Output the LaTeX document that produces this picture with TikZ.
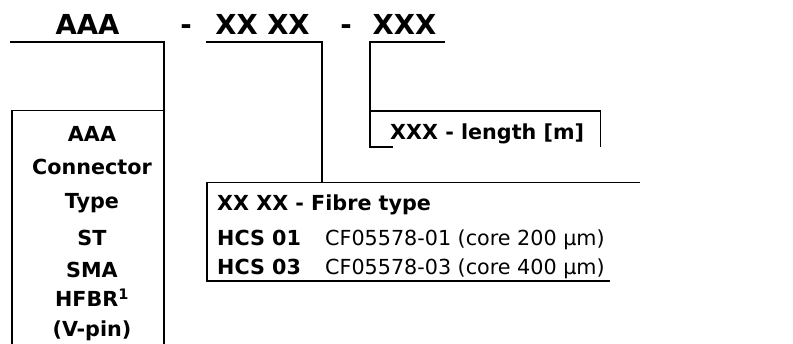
\documentclass[tikz,border=0pt]{standalone}
\usepackage{fontspec}
\setmainfont{DejaVu Sans}
\begin{document}
\begin{tikzpicture}[x=1pt,y=-1pt,
  rule/.style={line width=1.8pt},
  head/.style={anchor=base,inner sep=0pt,font=\fontsize{27.5}{30}\selectfont\bfseries},
  cell/.style={anchor=base,inner sep=0pt,font=\fontsize{20.7}{24}\selectfont\bfseries},
  lcell/.style={anchor=base west,inner sep=0pt,font=\fontsize{20.7}{24}\selectfont\bfseries},
  plain/.style={anchor=base west,inner sep=0pt,font=\fontsize{20.7}{24}\selectfont}]
\useasboundingbox (0,0) rectangle (793,344);

% order code
\node[head] (hA) at (87.5,35) {AAA};
\node[head] (hD1) at (186,35) {-};
\node[head] (hF) at (262.5,35) {XX XX};
\node[head] (hD2) at (346,35) {-};
\node[head] (hL) at (404.5,35) {XXX};

% underlines and drops
\coordinate (aS) at (10,42);
\coordinate (aE) at (164,42);
\coordinate (fS) at (206,42);
\coordinate (fE) at (322,42);
\coordinate (lS) at (445,42);
\coordinate (lE) at (370,42);

% connector type box
\coordinate (cTL) at (12,110.5);
\coordinate (cTR) at (164,110.5);
\coordinate (cBL) at (12,346);
\coordinate (cBR) at (164,346);
\draw[rule] (aS) -- (aE) -- (cTR);
\draw[rule] (cBL) -- (cTL) -- (cTR) -- (cBR);

\node[cell] (c1) at (92,142) {AAA};
\node[cell] (c2) at (92,175) {Connector};
\node[cell] (c3) at (92,209) {Type};
\node[cell] (c4) at (92,246) {ST};
\node[cell] (c5) at (92,278) {SMA};
\node[cell] (c6) at (92,307) {HFBR\textsuperscript{1}};
\node[cell] (c7) at (92,337) {(V-pin)};

% fibre type box
\coordinate (fTL) at (207,182.5);
\coordinate (fTM) at (322,182.5);
\coordinate (fTR) at (640,182.5);
\coordinate (fBL) at (207,281);
\coordinate (fBR) at (610,281);
\draw[rule] (fS) -- (fE) -- (fTM);
\draw[rule] (fTR) -- (fTL) -- (fBL) -- (fBR);

\node[lcell] (f1) at (217,211) {XX XX - Fibre type};
\node[lcell] (f2) at (217,246) {HCS 01};
\node[plain] (f2d) at (325,246) {CF05578-01 (core 200 µm)};
\node[lcell] (f3) at (217,275) {HCS 03};
\node[plain] (f3d) at (325,275) {CF05578-03 (core 400 µm)};

% length box
\coordinate (lTL) at (370,111);
\coordinate (lTR) at (600.5,111);
\coordinate (lBR) at (600.5,147);
\coordinate (lBL) at (370,147);
\coordinate (lBE) at (393,147);
\draw[rule] (lS) -- (lE) -- (lBL) -- (lBE);
\draw[rule] (lTL) -- (lTR) -- (lBR);

\node[lcell] (l1) at (390,140) {XXX - length [m]};
\end{tikzpicture}
\end{document}
